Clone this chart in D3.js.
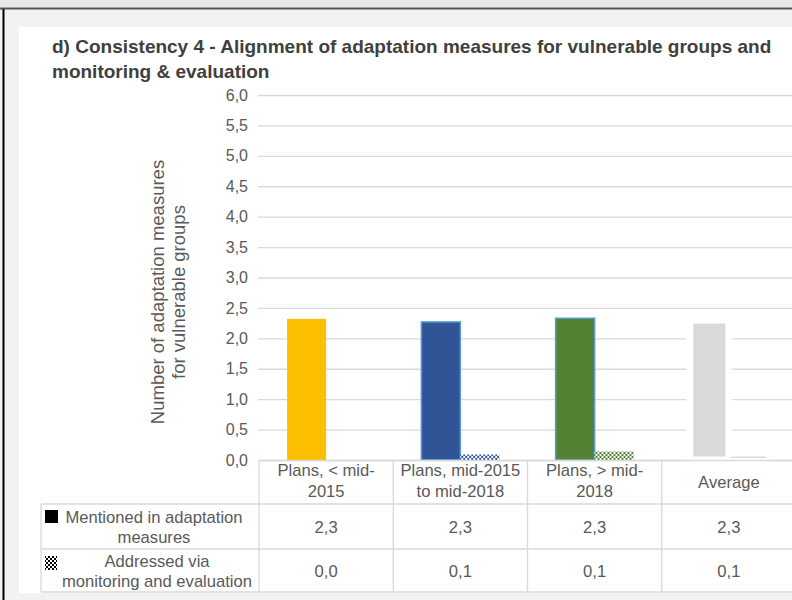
<!DOCTYPE html>
<html>
<head>
<meta charset="utf-8">
<script src="https://cdn.jsdelivr.net/npm/d3@7"></script>
<style>
  html, body { margin: 0; padding: 0; background: #fff; }
  svg { display: block; font-family: "Liberation Sans", Arial, sans-serif; }
</style>
</head>
<body>
<svg id="chart" width="792" height="600"></svg>
<script>
// chart data
const categories = [["Plans, < mid-", "2015"], ["Plans, mid-2015", "to mid-2018"], ["Plans, > mid-", "2018"], ["Average"]];
const catKeys = ["p1", "p2", "p3", "avg"];
const seriesNames = [["Mentioned in adaptation", "measures"], ["Addressed via", "monitoring and evaluation"]];
const mentioned = [2.32, 2.27, 2.33, 2.30];
const addressed = [0.0, 0.09, 0.14, 0.09];
const yTicks = [0, 0.5, 1, 1.5, 2, 2.5, 3, 3.5, 4, 4.5, 5, 5.5, 6];
const titleLines = ["d) Consistency 4 - Alignment of adaptation measures for vulnerable groups and", "monitoring & evaluation"];
const yTitle = ["Number of adaptation measures", "for vulnerable groups"];
const solidColors = ["#fbbf00", "#2f5597", "#548235", "#d9d9d9"];

const loc = d3.formatLocale({decimal: ",", thousands: ".", grouping: [3], currency: ["", "€"]});
const fmt = loc.format(".1f");

const svg = d3.select("#chart");
const defs = svg.append("defs");

// checker patterns for the second series
function checker(id, color) {
    const p = defs.append("pattern").attr("id", id)
        .attr("width", 4).attr("height", 4).attr("patternUnits", "userSpaceOnUse");
    p.append("rect").attr("width", 4).attr("height", 4).attr("fill", "#fff");
    p.append("rect").attr("width", 2).attr("height", 2).attr("fill", color);
    p.append("rect").attr("x", 2).attr("y", 2).attr("width", 2).attr("height", 2).attr("fill", color);
}
checker("chk0", "#fbbf00");
checker("chk1", "#2f5597");
checker("chk2", "#548235");
checker("chkK", "#000");

// outer frame
svg.append("rect").attr("width", 792).attr("height", 600).attr("fill", "#f2f2f2");
svg.append("rect").attr("x", 0).attr("y", 0).attr("width", 792).attr("height", 7).attr("fill", "#e9e9e9");
svg.append("line").attr("x1", 0).attr("x2", 792).attr("y1", 8.5).attr("y2", 8.5).attr("stroke", "#555").attr("stroke-width", 2);
svg.append("line").attr("x1", 3.5).attr("x2", 3.5).attr("y1", 9).attr("y2", 600).attr("stroke", "#000").attr("stroke-width", 2);
svg.append("rect").attr("x", 19).attr("y", 27).attr("width", 780).attr("height", 566).attr("fill", "#fff");

// title
svg.append("g").selectAll("text").data(titleLines).join("text")
    .attr("x", 52).attr("y", (d, i) => 53 + i * 25)
    .attr("font-size", 19).attr("font-weight", "bold").attr("fill", "#404040")
    .text(d => d);

const x0 = d3.scaleBand().domain(catKeys).range([259, 796]);
const x1 = d3.scaleBand().domain([0, 1]).range([0, x0.bandwidth()]).paddingOuter(0.72);
const y = d3.scaleLinear().domain([0, 6]).range([460, 95]);

// gridlines + tick labels
const yAxis = svg.append("g").attr("transform", "translate(258,0)")
    .call(d3.axisLeft(y).tickValues(yTicks).tickSize(-540).tickPadding(10).tickFormat(fmt));
yAxis.select(".domain").remove();
yAxis.selectAll(".tick line").attr("stroke", "#d9d9d9").attr("stroke-width", 1.3);
yAxis.selectAll(".tick text").attr("fill", "#595959").attr("font-size", 16)
    .attr("font-family", "Liberation Sans, Arial, sans-serif");

// axis title
svg.append("g").attr("transform", "translate(0,292) rotate(-90)")
    .selectAll("text").data(yTitle).join("text")
    .attr("x", 0).attr("y", (d, i) => 164 + i * 21)
    .attr("text-anchor", "middle").attr("font-size", 18.5).attr("fill", "#595959")
    .text(d => d);

// bars
const groups = svg.append("g").selectAll("g").data(catKeys).join("g")
    .attr("transform", d => `translate(${x0(d)},0)`);

groups.append("rect")
    .attr("x", x1(0)).attr("width", x1.bandwidth())
    .attr("y", (d, i) => y(mentioned[i])).attr("height", (d, i) => y(0) - y(mentioned[i]))
    .attr("fill", (d, i) => solidColors[i])
    .attr("stroke", (d, i) => i === 0 ? "none" : i === 3 ? "#fff" : "#5b9bd5")
    .attr("stroke-width", (d, i) => i === 3 ? 7 : 1.5);

groups.append("rect")
    .attr("x", x1(1)).attr("width", x1.bandwidth())
    .attr("y", (d, i) => y(addressed[i])).attr("height", (d, i) => y(0) - y(addressed[i]))
    .attr("fill", (d, i) => i === 3 ? "#d9d9d9" : `url(#chk${i})`)
    .attr("stroke", (d, i) => i === 3 ? "#fff" : "none")
    .attr("stroke-width", (d, i) => i === 3 ? 4 : 0);

// data table
const tbl = svg.append("g").attr("stroke", "#d9d9d9").attr("stroke-width", 1.3);
const colEdges = catKeys.map(k => x0(k));
const rowY = [460.5, 504, 549, 592];
tbl.append("line").attr("x1", 259).attr("x2", 792).attr("y1", rowY[0]).attr("y2", rowY[0]);
rowY.slice(1).forEach(r => tbl.append("line").attr("x1", 41).attr("x2", 792).attr("y1", r).attr("y2", r));
colEdges.forEach(c => tbl.append("line").attr("x1", c).attr("x2", c).attr("y1", rowY[0]).attr("y2", rowY[3]));
tbl.append("line").attr("x1", 41).attr("x2", 41).attr("y1", rowY[1]).attr("y2", rowY[3]);

const cellText = svg.append("g").attr("fill", "#595959").attr("font-size", 16.6).attr("text-anchor", "middle");

// header
catKeys.forEach((k, i) => {
    const lines = categories[i];
    const cx = x0(k) + x0.bandwidth() / 2;
    const top = lines.length === 2 ? 476 : 488;
    lines.forEach((t, j) => cellText.append("text").attr("x", cx).attr("y", top + j * 21).text(t));
});

// rows
const rowValues = [mentioned, addressed];
rowValues.forEach((vals, r) => {
    const mid = (rowY[r + 1] + rowY[r + 2]) / 2;
    seriesNames[r].forEach((t, j) => cellText.append("text")
        .attr("x", r === 0 ? 154 : 157).attr("y", mid - 4 + j * 20).text(t));
    vals.forEach((v, i) => cellText.append("text")
        .attr("x", x0(catKeys[i]) + x0.bandwidth() / 2).attr("y", mid + 6).text(fmt(v)));
});

// legend keys in table
svg.append("rect").attr("x", 45).attr("y", 510).attr("width", 13).attr("height", 13).attr("fill", "#000");
svg.append("rect").attr("x", 45).attr("y", 556).attr("width", 12).attr("height", 14).attr("fill", "url(#chkK)");
</script>
</body>
</html>
